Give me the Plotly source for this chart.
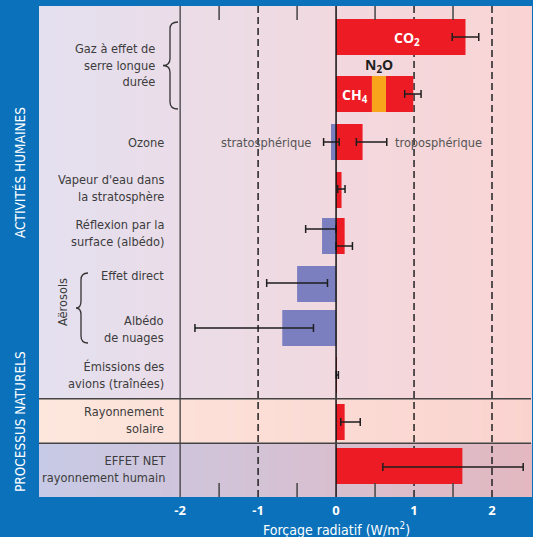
import plotly.graph_objects as go

# ---------------- data ----------------
row_names = ["CO2", "CH4+N2O+halocarbures", "Ozone", "Vapeur d'eau", "Albédo de surface",
             "Aérosols effet direct", "Albédo de nuages", "Traînées", "Solaire", "Net"]

# bar components (row index, value)
comp_names = ["CO₂", "CH₄", "N₂O", "Halocarbures", "Ozone stratosphérique", "Ozone troposphérique",
              "Vapeur d'eau stratosphérique", "Albédo (usage des sols)", "Albédo (suie sur neige)",
              "Aérosols effet direct", "Albédo de nuages", "Traînées", "Rayonnement solaire", "Effet net"]
comp_row = [0, 1, 1, 1, 2, 2, 3, 4, 4, 5, 6, 7, 8, 9]
comp_value = [1.66, 0.46, 0.18, 0.35, -0.065, 0.34, 0.07, -0.18, 0.11, -0.50, -0.69, 0.01, 0.11, 1.62]

# uncertainty ranges (row index, best estimate, low, high)
err_row = [0, 1, 2, 2, 3, 4, 4, 5, 6, 7, 8, 9]
err_best = [1.66, 0.98, -0.05, 0.35, 0.07, -0.20, 0.10, -0.50, -0.70, 0.01, 0.12, 1.60]
err_low = [1.49, 0.88, -0.16, 0.26, 0.02, -0.39, 0.00, -0.89, -1.81, 0.003, 0.06, 0.60]
err_high = [1.83, 1.09, 0.04, 0.65, 0.115, 0.00, 0.21, -0.11, -0.29, 0.03, 0.31, 2.40]

row_labels = ["Gaz à effet de<br>serre longue<br>durée", "Ozone", "Vapeur d'eau dans<br>la stratosphère",
              "Réflexion par la<br>surface (albédo)", "Effet direct", "Albédo<br>de nuages",
              "Émissions des<br>avions (traînées)", "Rayonnement<br>solaire", "EFFET NET<br>rayonnement humain"]
tick_vals = [-2, -1, 0, 1, 2]
tick_text = ["-2", "-1", "0", "1", "2"]

# ---------------- layout positions / styles ----------------
W, H = 533, 537
ML, MR, MT, MB = 39, 2, 6, 40
X0, X1 = -3.81, 2.5
row_pos = [37, 94, 142, 190, 236, 284, 328, 375, 422, 466]   # y in pixel units (axis reversed)
label_y = [65, 142, 188, 233, 275, 329, 375, 420, 469]
label_right = [157, 166, 166, 166, 166, 166, 166, 166, 168]
err_offset = [0, 0, 0, 0, -1, -7, 10, -1, 0, 0, 0, 1]

RED, BLUE, ORANGE = "#ed1c24", "#7b7fbf", "#f8a51b"
comp_color = [RED, RED, ORANGE, RED, BLUE, RED, RED, BLUE, RED, BLUE, BLUE, RED, RED, RED]
BG = "#0b71ba"
TXT = "#3c3c3c"
NARROW = "DejaVu Sans Condensed, Liberation Sans Narrow, sans-serif"
BOLD = "Open Sans, Noto Sans, sans-serif"
LBL = 12.7

unit = (W - ML - MR) / (X1 - X0)
def px2x(px):
    return X0 + (px - ML) / unit
def px2paperx(px):
    return (px - ML) / (W - ML - MR)
def px2papery(py):
    return (H - MB - py) / (H - MT - MB)

# stacked bases
comp_base = []
running = {}
for r, v in zip(comp_row, comp_value):
    if v >= 0:
        b = running.get(r, 0.0)
        comp_base.append(b)
        running[r] = b + v
    else:
        comp_base.append(0.0)

fig = go.Figure()

for col in [RED, ORANGE, BLUE]:
    idx = [i for i, c in enumerate(comp_color) if c == col]
    fig.add_trace(go.Bar(
        orientation="h",
        y=[row_pos[comp_row[i]] for i in idx],
        x=[comp_value[i] for i in idx],
        base=[comp_base[i] for i in idx],
        width=36,
        marker=dict(color=col, line=dict(width=0)),
        hovertext=[comp_names[i] for i in idx],
        showlegend=False,
    ))

fig.add_trace(go.Scatter(
    x=err_best,
    y=[row_pos[r] + o for r, o in zip(err_row, err_offset)],
    mode="markers",
    marker=dict(size=1, color="rgba(0,0,0,0)"),
    error_x=dict(type="data", symmetric=False,
                 array=[h - b for h, b in zip(err_high, err_best)],
                 arrayminus=[b - l for b, l in zip(err_best, err_low)],
                 color="#1e1e1e", thickness=1.5, width=4),
    showlegend=False,
))

shapes = []
# gradient backgrounds
def hexrgb(h):
    h = h.lstrip("#")
    return tuple(int(h[i:i + 2], 16) for i in (0, 2, 4))

sections = [(6, 399, "#e4e0f0", "#fad4d4"),
            (399, 443, "#fde7dd", "#fad3cf"),
            (443, 497, "#c7cae6", "#e3b8c0")]
N = 60
for y0, y1, cl, cr in sections:
    a, b = hexrgb(cl), hexrgb(cr)
    for k in range(N):
        t = (k + 0.5) / N
        c = tuple(round(a[j] + (b[j] - a[j]) * t) for j in range(3))
        shapes.append(dict(type="rect", xref="paper", yref="y", x0=k / N, x1=(k + 1) / N + 0.002,
                           y0=y0, y1=y1, fillcolor="rgb(%d,%d,%d)" % c, line=dict(width=0),
                           layer="below"))
# dashed grid lines
for xv in [-1, 1, 2]:
    shapes.append(dict(type="line", xref="x", yref="y", x0=xv, x1=xv, y0=6, y1=497,
                       line=dict(color="#222", width=1.5, dash="7px,4px"), layer="below"))
# solid lines
shapes.append(dict(type="line", xref="x", yref="y", x0=-2, x1=-2, y0=6, y1=497,
                   line=dict(color="#333", width=1.2), layer="above"))
shapes.append(dict(type="line", xref="x", yref="y", x0=0, x1=0, y0=6, y1=497,
                   line=dict(color="#111", width=1.5), layer="above"))
for yv in [398.7, 443.3]:
    shapes.append(dict(type="line", xref="paper", yref="y", x0=0, x1=1, y0=yv, y1=yv,
                       line=dict(color="#444", width=1.5), layer="above"))
# minor ticks top and bottom
for xv in [-1.5, -0.5, 0.5, 1.5]:
    for y0, y1 in [(6, 20), (483, 497)]:
        shapes.append(dict(type="line", xref="x", yref="y", x0=xv, x1=xv, y0=y0, y1=y1,
                           line=dict(color="#444", width=1.5), layer="above"))
# braces
def brace(xr, xm, xt, ytop, ybot):
    ym = (ytop + ybot) / 2
    r = 7
    p = (f"M {px2x(xr)},{ytop} Q {px2x(xm)},{ytop} {px2x(xm)},{ytop + r} "
         f"L {px2x(xm)},{ym - r} Q {px2x(xm)},{ym} {px2x(xt)},{ym} "
         f"Q {px2x(xm)},{ym} {px2x(xm)},{ym + r} "
         f"L {px2x(xm)},{ybot - r} Q {px2x(xm)},{ybot} {px2x(xr)},{ybot}")
    return dict(type="path", xref="x", yref="y", path=p, line=dict(color="#333", width=1.3),
                layer="above")
shapes.append(brace(178, 170, 163, 22, 109))
shapes.append(brace(88, 81, 76, 273, 343))

ann = []
for lab, yy, xr in zip(row_labels, label_y, label_right):
    ann.append(dict(x=px2x(xr), y=yy, xref="x", yref="y", text=lab, showarrow=False,
                    xanchor="right", yanchor="middle", align="right",
                    font=dict(family=NARROW, size=LBL, color=TXT)))
ann.append(dict(x=px2x(62), y=302, xref="x", yref="y", text="Aërosols", textangle=-90,
                showarrow=False, xanchor="center", yanchor="middle",
                font=dict(family=NARROW, size=LBL, color=TXT)))
ann.append(dict(x=px2x(313), y=142, xref="x", yref="y", text="stratosphérique", showarrow=False,
                xanchor="right", yanchor="middle", font=dict(family=NARROW, size=LBL, color="#555")))
ann.append(dict(x=px2x(393), y=142, xref="x", yref="y", text="troposphérique", showarrow=False,
                xanchor="left", yanchor="middle", font=dict(family=NARROW, size=LBL, color="#555")))
ann.append(dict(x=px2x(407), y=38, xref="x", yref="y", text="CO<sub>2</sub>", showarrow=False,
                xanchor="center", yanchor="middle",
                font=dict(family=BOLD, size=14, color="white", weight="bold")))
ann.append(dict(x=px2x(355), y=95, xref="x", yref="y", text="CH<sub>4</sub>", showarrow=False,
                xanchor="center", yanchor="middle",
                font=dict(family=BOLD, size=14, color="white", weight="bold")))
ann.append(dict(x=px2x(379), y=65, xref="x", yref="y", text="N<sub>2</sub>O", showarrow=False,
                xanchor="center", yanchor="middle",
                font=dict(family=BOLD, size=14, color="#1e1e1e", weight="bold")))
ann.append(dict(x=px2paperx(20), y=px2papery(173), xref="paper", yref="paper",
                text="ACTIVITÉS HUMAINES", textangle=-90, xanchor="center", yanchor="middle",
                showarrow=False, font=dict(family=NARROW, size=13.5, color="white")))
ann.append(dict(x=px2paperx(20), y=px2papery(422), xref="paper", yref="paper",
                text="PROCESSUS NATURELS", textangle=-90, xanchor="center", yanchor="middle",
                showarrow=False, font=dict(family=NARROW, size=13.5, color="white")))
ann.append(dict(x=px2paperx(336), y=px2papery(529), xref="paper", yref="paper",
                text="Forçage radiatif (W/m<sup>2</sup>)", xanchor="center", yanchor="middle",
                showarrow=False, font=dict(family=NARROW, size=14, color="white")))

fig.update_layout(
    width=W, height=H,
    margin=dict(l=ML, r=MR, t=MT, b=MB, pad=0),
    paper_bgcolor=BG, plot_bgcolor="#e8dce6",
    barmode="overlay",
    shapes=shapes, annotations=ann,
    xaxis=dict(range=[X0, X1], tickvals=tick_vals, ticktext=tick_text, showgrid=False,
               zeroline=False, showline=False, ticks="", ticklabelstandoff=4,
               tickfont=dict(family=BOLD, size=13, color="white", weight="bold")),
    yaxis=dict(range=[497, 6], showgrid=False, zeroline=False, showline=False,
               showticklabels=False, ticks=""),
    showlegend=False,
)

fig.write_html("out.html", config={"displayModeBar": False},
               post_script="document.body.style.margin='0';document.body.style.overflow='hidden';")
